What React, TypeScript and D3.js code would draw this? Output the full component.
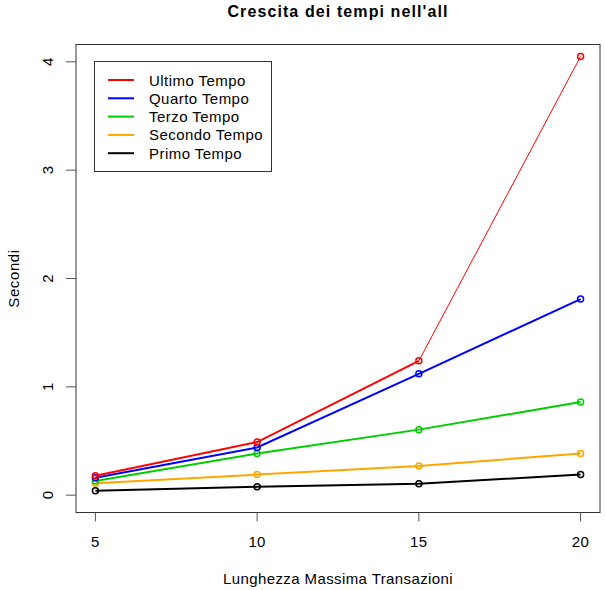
import * as d3 from 'd3';

const lengths = [5, 10, 15, 20];
const ultimo = [0.18, 0.49, 1.24, 4.05];
const quarto = [0.16, 0.44, 1.12, 1.81];
const terzo = [0.13, 0.385, 0.605, 0.86];
const secondo = [0.11, 0.19, 0.27, 0.385];
const primo = [0.04, 0.077, 0.105, 0.19];
const yTicks = [0, 1, 2, 3, 4];

const series = [
  { name: "Ultimo Tempo", color: "#ff0000", values: ultimo },
  { name: "Quarto Tempo", color: "#0000ff", values: quarto },
  { name: "Terzo Tempo", color: "#00cd00", values: terzo },
  { name: "Secondo Tempo", color: "#ffa500", values: secondo },
  { name: "Primo Tempo", color: "#000000", values: primo },
];

const W = 605, H = 590;
const box = { left: 76, right: 600, top: 44.5, bottom: 512.5 };
const font = "Liberation Sans, Arial, sans-serif";
const ls = 0.4; // text looks a bit wider than plain Arial

export default function App() {
  // R style: 4% padding on each side of the data range
  const x = d3.scaleLinear().domain([4.4, 20.6]).range([box.left, box.right]);
  const y = d3.scaleLinear().domain([-0.16, 4.16]).range([box.bottom, box.top]);
  const line = d3.line<[number, number]>().x(d => x(d[0])).y(d => y(d[1]));

  return (
    <svg width={W} height={H} style={{ position: "absolute", left: 0, top: 0 }} fontFamily={font}>
      <rect width={W} height={H} fill="#fff" />
      <text x={(box.left + box.right) / 2} y={16.5} textAnchor="middle" fontSize={16} fontWeight="bold" letterSpacing={1.1}>
        Crescita dei tempi nell'all
      </text>

      {/* draw back to front so red sits on top */}
      {[...series].reverse().map(s => {
        const pts = lengths.map((l, i) => [l, s.values[i]] as [number, number]);
        const isRed = s.name === "Ultimo Tempo";
        return (
          <g key={s.name}>
            {isRed ? (
              <>
                <path d={line(pts.slice(0, 3))!} fill="none" stroke={s.color} strokeWidth={2} />
                <path d={line(pts.slice(2))!} fill="none" stroke={s.color} strokeWidth={1} />
              </>
            ) : (
              <path d={line(pts)!} fill="none" stroke={s.color} strokeWidth={2} />
            )}
            {pts.map((p, i) => (
              <circle key={i} cx={x(p[0])} cy={y(p[1])} r={3} fill="none" stroke={s.color} strokeWidth={1.5} />
            ))}
          </g>
        );
      })}

      <rect x={box.left} y={box.top} width={box.right - box.left} height={box.bottom - box.top}
        fill="none" stroke="#333" strokeWidth={1} />

      {lengths.map(t => (
        <g key={t}>
          <line x1={x(t)} x2={x(t)} y1={box.bottom} y2={box.bottom + 9} stroke="#555" />
          <text x={x(t)} y={547} textAnchor="middle" fontSize={15} letterSpacing={ls}>{t}</text>
        </g>
      ))}
      {yTicks.map(t => (
        <g key={t}>
          <line x1={box.left} x2={box.left - 10} y1={y(t)} y2={y(t)} stroke="#555" />
          <text transform={`translate(53,${y(t)}) rotate(-90)`} textAnchor="middle" fontSize={15}>{t}</text>
        </g>
      ))}

      <text x={(box.left + box.right) / 2} y={584} textAnchor="middle" fontSize={15} letterSpacing={ls}>
        Lunghezza Massima Transazioni
      </text>
      <text transform={`translate(19,${(box.top + box.bottom) / 2}) rotate(-90)`} textAnchor="middle" fontSize={15} letterSpacing={0.6}>
        Secondi
      </text>

      <rect x={94.5} y={61.5} width={177} height={110} fill="#fff" stroke="#333" />
      {series.map((s, i) => {
        const ry = 80 + i * 18.3;
        return (
          <g key={s.name}>
            <line x1={108} x2={134} y1={ry} y2={ry} stroke={s.color} strokeWidth={2} />
            <text x={149} y={ry + 5.5} fontSize={15} letterSpacing={0.45}>{s.name}</text>
          </g>
        );
      })}
    </svg>
  );
}
